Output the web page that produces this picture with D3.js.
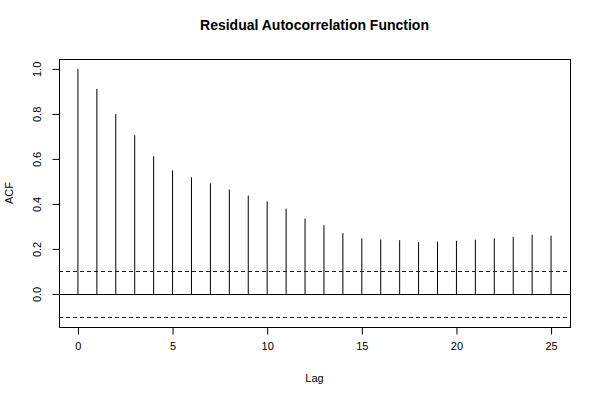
<!DOCTYPE html>
<html><head><meta charset="utf-8">
<script src="https://cdn.jsdelivr.net/npm/d3@7"></script>
<style>body{margin:0;background:#fff}svg{display:block}text{font-family:"Liberation Sans",Arial,Helvetica,sans-serif}</style>
</head><body>
<script>
const lags = [0,1,2,3,4,5,6,7,8,9,10,11,12,13,14,15,16,17,18,19,20,21,22,23,24,25];
const acf  = [1.0,0.911,0.799,0.705,0.612,0.549,0.518,0.491,0.464,0.437,0.411,0.379,0.335,0.305,0.270,0.247,0.242,0.239,0.230,0.232,0.236,0.241,0.247,0.254,0.263,0.259];
const ciBound = 0.103;
const ciBounds = [ciBound, -ciBound];
const xTicks = [0,5,10,15,20,25];
const yTicks = [0.0,0.2,0.4,0.6,0.8,1.0];

const W=600,H=400, L=59, R=570, T=59, B=327;
const svg=d3.select("body").append("svg").attr("width",W).attr("height",H);
const x=d3.scaleLinear().domain([-1,26]).range([L,R]);
const y=d3.scaleLinear().domain([-0.147,1.044]).range([B,T]);

// box
svg.append("rect").attr("x",L+0.5).attr("y",T+0.5).attr("width",R-L).attr("height",B-T)
  .attr("fill","none").attr("stroke","#000").attr("stroke-width",1);

// zero line
svg.append("line").attr("x1",L).attr("x2",R).attr("y1",Math.round(y(0))+0.5).attr("y2",Math.round(y(0))+0.5)
  .attr("stroke","#000");

// spikes
svg.append("g").selectAll("line").data(lags).join("line")
  .attr("x1",d=>x(d)).attr("x2",d=>x(d))
  .attr("y1",y(0)).attr("y2",(d,i)=>y(acf[i]))
  .attr("stroke","#000").attr("stroke-width",1);

// CI lines (drawn on top, as in R)
svg.append("g").selectAll("path").data(ciBounds).join("path")
  .attr("d",v=>`M${L},${Math.round(y(v))+0.5}H${R}`)
  .attr("fill","none").attr("stroke","blue").attr("stroke-width",1.2)
  .attr("stroke-dasharray","4,3");

// x axis
const xa=svg.append("g").attr("transform",`translate(0,${B+0.5})`)
  .call(d3.axisBottom(x).tickValues(xTicks).tickSize(7).tickPadding(8).tickFormat(d3.format("d")));
xa.select(".domain").attr("d",`M${x(0)},0H${x(25)}`);
xa.selectAll("text").attr("font-size",11).attr("fill","#000").attr("font-family","Liberation Sans, Arial, sans-serif");

// y axis
const ya=svg.append("g").attr("transform",`translate(${L+0.5},0)`)
  .call(d3.axisLeft(y).tickValues(yTicks).tickSize(7).tickFormat(d3.format(".1f")));
ya.select(".domain").attr("d",`M0,${y(0)}V${y(1)}`);
ya.selectAll("text").remove();
ya.selectAll(".tick").append("text")
  .attr("transform","translate(-22,0) rotate(-90)")
  .attr("text-anchor","middle").attr("dy","0.35em")
  .attr("font-size",11).attr("fill","#000")
  .text(d=>d3.format(".1f")(d));

// titles
svg.append("text").attr("x",(L+R)/2).attr("y",30).attr("text-anchor","middle")
  .attr("font-size",14).attr("font-weight","bold").text("Residual Autocorrelation Function");
svg.append("text").attr("x",(L+R)/2).attr("y",382).attr("text-anchor","middle")
  .attr("font-size",11).text("Lag");
svg.append("text").attr("transform",`translate(13,${(T+B)/2}) rotate(-90)`).attr("text-anchor","middle")
  .attr("font-size",11).text("ACF");
</script>
</body></html>
